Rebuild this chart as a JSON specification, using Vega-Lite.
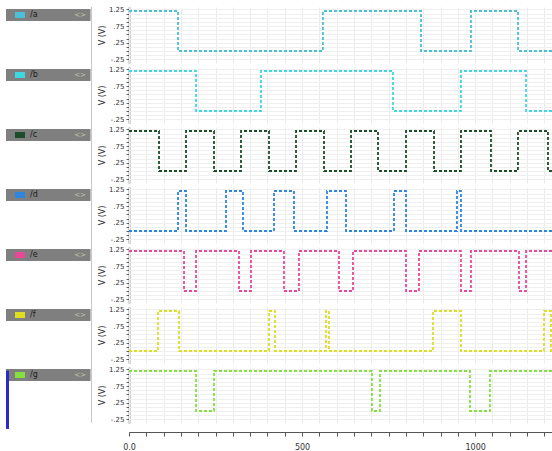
{
 "$schema": "https://vega.github.io/schema/vega-lite/v6.json",
 "padding": {"left": 0, "top": 5, "right": 0, "bottom": 0},
 "background": "white",
 "config": {"view": {"stroke": null}, "font": "DejaVu Sans", "concat": {"spacing": 6}},
 "datasets": {
  "legend": [
   {"signal": "/a"}, {"signal": "/b"}, {"signal": "/c"}, {"signal": "/d"}, {"signal": "/e"}, {"signal": "/f"}, {"signal": "/g"}
  ],
  "waves": [
   {"s": "/a", "t": 0, "v": 1.2}, {"s": "/a", "t": 141.6, "v": 0}, {"s": "/a", "t": 560.2, "v": 1.2}, {"s": "/a", "t": 843.6, "v": 0}, {"s": "/a", "t": 988, "v": 1.2}, {"s": "/a", "t": 1124, "v": 0}, {"s": "/a", "t": 1225, "v": 0},
   {"s": "/b", "t": 0, "v": 1.2}, {"s": "/b", "t": 193.6, "v": 0}, {"s": "/b", "t": 381.3, "v": 1.2}, {"s": "/b", "t": 762.7, "v": 0}, {"s": "/b", "t": 959, "v": 1.2}, {"s": "/b", "t": 1147, "v": 0}, {"s": "/b", "t": 1225, "v": 0},
   {"s": "/c", "t": 0, "v": 1.2}, {"s": "/c", "t": 86.7, "v": 0}, {"s": "/c", "t": 164.7, "v": 1.2}, {"s": "/c", "t": 245.6, "v": 0}, {"s": "/c", "t": 323.6, "v": 1.2}, {"s": "/c", "t": 404.5, "v": 0}, {"s": "/c", "t": 482.5, "v": 1.2}, {"s": "/c", "t": 563.4, "v": 0}, {"s": "/c", "t": 641.4, "v": 1.2}, {"s": "/c", "t": 719.4, "v": 0}, {"s": "/c", "t": 800.3, "v": 1.2}, {"s": "/c", "t": 881.2, "v": 0}, {"s": "/c", "t": 959.1, "v": 1.2}, {"s": "/c", "t": 1045.8, "v": 0}, {"s": "/c", "t": 1123.8, "v": 1.2}, {"s": "/c", "t": 1210.5, "v": 0}, {"s": "/c", "t": 1225, "v": 0},
   {"s": "/d", "t": 0, "v": 0}, {"s": "/d", "t": 141.6, "v": 1.2}, {"s": "/d", "t": 164.7, "v": 0}, {"s": "/d", "t": 280.2, "v": 1.2}, {"s": "/d", "t": 329.3, "v": 0}, {"s": "/d", "t": 418.9, "v": 1.2}, {"s": "/d", "t": 476.7, "v": 0}, {"s": "/d", "t": 572, "v": 1.2}, {"s": "/d", "t": 626.9, "v": 0}, {"s": "/d", "t": 765.6, "v": 1.2}, {"s": "/d", "t": 800.3, "v": 0}, {"s": "/d", "t": 947.6, "v": 1.2}, {"s": "/d", "t": 959.1, "v": 0}, {"s": "/d", "t": 1225, "v": 0},
   {"s": "/e", "t": 0, "v": 1.2}, {"s": "/e", "t": 158.9, "v": 0}, {"s": "/e", "t": 193.6, "v": 1.2}, {"s": "/e", "t": 317.8, "v": 0}, {"s": "/e", "t": 352.5, "v": 1.2}, {"s": "/e", "t": 447.8, "v": 0}, {"s": "/e", "t": 491.1, "v": 1.2}, {"s": "/e", "t": 606.7, "v": 0}, {"s": "/e", "t": 647.1, "v": 1.2}, {"s": "/e", "t": 800.3, "v": 0}, {"s": "/e", "t": 837.8, "v": 1.2}, {"s": "/e", "t": 959.1, "v": 0}, {"s": "/e", "t": 988, "v": 1.2}, {"s": "/e", "t": 1126.7, "v": 0}, {"s": "/e", "t": 1147, "v": 1.2}, {"s": "/e", "t": 1225, "v": 1.2},
   {"s": "/f", "t": 0, "v": 0}, {"s": "/f", "t": 83.8, "v": 1.2}, {"s": "/f", "t": 144.5, "v": 0}, {"s": "/f", "t": 404.5, "v": 1.2}, {"s": "/f", "t": 421.8, "v": 0}, {"s": "/f", "t": 569.1, "v": 1.2}, {"s": "/f", "t": 577.8, "v": 0}, {"s": "/f", "t": 878.3, "v": 1.2}, {"s": "/f", "t": 959.1, "v": 0}, {"s": "/f", "t": 1199, "v": 1.2}, {"s": "/f", "t": 1219, "v": 0}, {"s": "/f", "t": 1225, "v": 0},
   {"s": "/g", "t": 0, "v": 1.2}, {"s": "/g", "t": 193.6, "v": 0}, {"s": "/g", "t": 245.6, "v": 1.2}, {"s": "/g", "t": 702, "v": 0}, {"s": "/g", "t": 725.1, "v": 1.2}, {"s": "/g", "t": 985.1, "v": 0}, {"s": "/g", "t": 1042.9, "v": 1.2}, {"s": "/g", "t": 1225, "v": 1.2}
  ]
 },
 "hconcat": [
  {
   "width": 92,
   "height": 416,
   "data": {"name": "legend"},
   "layer": [
    {
     "mark": {"type": "rule", "color": "#c8c8c8", "strokeWidth": 1},
     "encoding": {"x": {"datum": 91.5, "type": "quantitative", "scale": {"domain": [0, 92], "nice": false, "zero": false}, "axis": null}}
    },
    {
     "mark": {"type": "rect", "color": "#7f7f7f", "yOffset": 2},
     "encoding": {
      "y": {"field": "signal", "type": "nominal", "sort": null, "scale": {"type": "band", "paddingInner": 0.8, "paddingOuter": 0.3667, "align": 0}, "axis": null},
      "x": {"datum": 6, "type": "quantitative"},
      "x2": {"datum": 90.5}
     }
    },
    {
     "mark": {"type": "point", "shape": "M-1,-0.6H1V0.6H-1Z", "size": 100, "filled": true, "opacity": 1, "yOffset": 2},
     "encoding": {
      "y": {"field": "signal", "type": "nominal", "sort": null, "scale": {"type": "band", "paddingInner": 0.8, "paddingOuter": 0.3667, "align": 0}, "axis": null},
      "x": {"datum": 20, "type": "quantitative"},
      "color": {"field": "signal", "type": "nominal", "scale": {"domain": ["/a", "/b", "/c", "/d", "/e", "/f", "/g"], "range": ["#4cbfd6", "#3fd8e2", "#1c4d2a", "#2e86de", "#e8489a", "#dede22", "#84e03e"]}, "legend": null}
     }
    },
    {
     "mark": {"type": "text", "align": "left", "baseline": "middle", "fontSize": 8, "color": "#1a1a1a", "yOffset": 2},
     "encoding": {
      "y": {"field": "signal", "type": "nominal", "sort": null, "scale": {"type": "band", "paddingInner": 0.8, "paddingOuter": 0.3667, "align": 0}, "axis": null},
      "x": {"datum": 30, "type": "quantitative"},
      "text": {"field": "signal"}
     }
    },
    {
     "mark": {"type": "text", "align": "center", "baseline": "middle", "fontSize": 7, "color": "#c4c4b0", "yOffset": 2, "text": "<>"},
     "encoding": {
      "y": {"field": "signal", "type": "nominal", "sort": null, "scale": {"type": "band", "paddingInner": 0.8, "paddingOuter": 0.3667, "align": 0}, "axis": null},
      "x": {"datum": 80, "type": "quantitative"}
     }
    },
    {
     "data": {"values": [{"sel": "/g"}]},
     "mark": {"type": "rule", "color": "#2a2ac8", "strokeWidth": 3},
     "encoding": {
      "x": {"datum": 7.5, "type": "quantitative"},
      "y": {"datum": 6.12, "type": "quantitative", "scale": {"domain": [0, 7], "reverse": true, "nice": false, "zero": false}, "axis": null},
      "y2": {"datum": 7.1}
     }
    }
   ],
   "resolve": {"scale": {"y": "independent", "color": "independent"}}
  },
  {
   "data": {"name": "waves"},
   "bounds": "flush",
   "facet": {"row": {"field": "s", "type": "nominal", "title": null, "sort": ["/a", "/b", "/c", "/d", "/e", "/f", "/g"], "header": {"labels": false, "title": null}}},
   "spacing": {"row": 4},
   "spec": {
    "width": 424,
    "height": 56,
    "mark": {"type": "line", "interpolate": "step-after", "strokeDash": [3, 2], "strokeWidth": 1.8, "clip": true},
    "encoding": {
     "x": {"field": "t", "type": "quantitative", "scale": {"domain": [0, 1225], "nice": false, "zero": false},
      "axis": {"title": null, "values": [0, 50, 100, 150, 200, 250, 300, 350, 400, 450, 500, 550, 600, 650, 700, 750, 800, 850, 900, 950, 1000, 1050, 1100, 1150, 1200],
       "labelExpr": "datum.value % 500 === 0 ? (datum.value === 0 ? '0.0' : format(datum.value, 'd')) : ''",
       "labelFontSize": 8, "labelColor": "#333", "domainColor": "#555", "tickColor": "#555", "tickSize": 4, "offset": 9, "labelPadding": 7,
       "grid": true, "gridColor": "#ebebeb", "labelFlush": false}},
     "y": {"field": "v", "type": "quantitative", "scale": {"domain": [-0.36, 1.32], "nice": false, "zero": false},
      "axis": {"title": "V (V)", "titleFontSize": 8, "titleFontWeight": "normal", "titleColor": "#333", "titlePadding": 2,
       "values": [-0.25, -0.125, 0, 0.125, 0.25, 0.375, 0.5, 0.625, 0.75, 0.875, 1, 1.125, 1.25],
       "labelExpr": "datum.value === 1.25 ? '1.25' : datum.value === 0.75 ? '.75' : datum.value === 0.25 ? '.25' : datum.value === -0.25 ? '-.25' : ''",
       "labelFontSize": 7, "labelColor": "#333", "labelPadding": 2, "tickSize": 3, "tickColor": "#666", "domainColor": "#444", "domainWidth": 1.5,
       "grid": true, "gridColor": "#efefef"}},
     "color": {"field": "s", "type": "nominal", "scale": {"domain": ["/a", "/b", "/c", "/d", "/e", "/f", "/g"], "range": ["#4cbfd6", "#3fd8e2", "#1c4d2a", "#2e86de", "#e8489a", "#dede22", "#84e03e"]}, "legend": null}
    }
   }
  }
 ]
}
